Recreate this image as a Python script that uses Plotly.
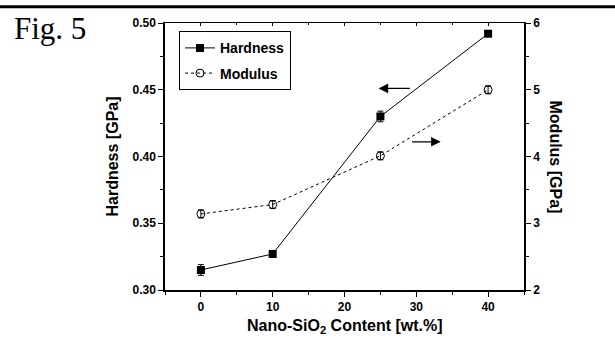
import plotly.graph_objects as go

# Data
content = [0, 10, 25, 40]
hardness = [0.315, 0.327, 0.430, 0.492]
hardness_err = [0.004, 0.002, 0.004, 0.002]
modulus = [3.14, 3.28, 4.01, 5.0]
modulus_err = [0.06, 0.06, 0.06, 0.06]

x_ticks = [0, 10, 20, 30, 40]
y1_ticks = [0.30, 0.35, 0.40, 0.45, 0.50]
y2_ticks = [2, 3, 4, 5, 6]

W, H = 615, 360
L, R, T, B = 165, 91, 22.7, 70
pw = W - L - R
ph = H - T - B

font_family = "Liberation Sans, Arial, sans-serif"
bold = dict(family=font_family, color="black", weight="bold")

fig = go.Figure()

fig.add_trace(go.Scatter(
    x=content, y=hardness, name="Hardness", mode="lines+markers",
    line=dict(color="black", width=1),
    marker=dict(symbol="square", size=8, color="black"),
    error_y=dict(type="data", array=hardness_err, color="black", thickness=1, width=3),
    legendgroup="a", yaxis="y",
))
fig.add_trace(go.Scatter(
    x=content, y=modulus, name="Modulus", mode="lines+markers",
    line=dict(color="black", width=1, dash="3px,3px"),
    marker=dict(symbol="circle-open", size=8, color="black", line=dict(width=1)),
    error_y=dict(type="data", array=modulus_err, color="black", thickness=1, width=3),
    legendgroup="b", yaxis="y2",
))

axis_common = dict(
    showline=True, linecolor="black", linewidth=1.5, showgrid=False, zeroline=False,
    ticks="outside", ticklen=5, tickwidth=1, tickcolor="black",
    tickfont=dict(size=12, **bold),
)

fig.update_layout(
    width=W, height=H,
    margin=dict(l=L, r=R, t=T, b=B),
    paper_bgcolor="white", plot_bgcolor="white",
    showlegend=True,
    legend=dict(
        x=(179 - L) / pw, y=1 - (31 - T) / ph, xanchor="left", yanchor="top",
        bordercolor="black", borderwidth=1, bgcolor="white",
        font=dict(size=14, **bold), tracegroupgap=4, traceorder="grouped",
        itemwidth=30,
    ),
    xaxis=dict(
        range=[-5, 45], tickvals=x_ticks,
        minor=dict(dtick=5, tick0=0, ticks="outside", ticklen=3, tickcolor="black"),
        **axis_common,
    ),
    xaxis2=dict(
        range=[-5, 45], overlaying="x", side="top", tickvals=x_ticks,
        showticklabels=False, showline=True, linecolor="black", linewidth=1,
        ticks="inside", ticklen=3, tickcolor="black", showgrid=False, zeroline=False,
        minor=dict(dtick=5, tick0=0, ticks="inside", ticklen=2, tickcolor="black"),
    ),
    yaxis=dict(
        range=[0.30, 0.50], tickvals=y1_ticks, tickformat=".2f",
        minor=dict(dtick=0.025, tick0=0.30, ticks="outside", ticklen=3, tickcolor="black"),
        **axis_common,
    ),
    yaxis2=dict(
        range=[2, 6], tickvals=y2_ticks, overlaying="y", side="right",
        minor=dict(dtick=0.5, tick0=2, ticks="outside", ticklen=3, tickcolor="black"),
        **axis_common,
    ),
)

# dummy trace to activate xaxis2
fig.add_trace(go.Scatter(x=[None], y=[None], xaxis="x2", showlegend=False))

title_font = dict(size=16, **bold)
annotations = [
    dict(text="Fig. 5", xref="paper", yref="paper",
         x=(12 - L) / pw, y=1 - (9 - T) / ph, xanchor="left", yanchor="top",
         showarrow=False, font=dict(family="Liberation Serif, Times New Roman, serif", size=31, color="black")),
    dict(text="Nano-SiO<sub>2</sub> Content [wt.%]", xref="paper", yref="paper",
         x=0.5, y=-(327 - T - ph) / ph, xanchor="center", yanchor="middle",
         showarrow=False, font=title_font),
    dict(text="Hardness [GPa]", xref="paper", yref="paper",
         x=(112 - L) / pw, y=0.5, xanchor="center", yanchor="middle",
         textangle=-90, showarrow=False, font=title_font),
    dict(text="Modulus [GPa]", xref="paper", yref="paper",
         x=(555 - L) / pw, y=0.5, xanchor="center", yanchor="middle",
         textangle=90, showarrow=False, font=title_font),
    dict(x=24.75, y=0.451, ax=29.3, ay=0.451, xref="x", yref="y", axref="x", ayref="y",
         text="", showarrow=True, arrowhead=2, arrowsize=1.6, arrowwidth=1.2, arrowcolor="black"),
    dict(x=33.4, y=4.22, ax=29.2, ay=4.22, xref="x", yref="y2", axref="x", ayref="y2",
         text="", showarrow=True, arrowhead=2, arrowsize=1.6, arrowwidth=1.2, arrowcolor="black"),
]
fig.update_layout(annotations=annotations)

# top rule across the page
fig.add_shape(type="line", xref="paper", yref="paper",
              x0=-L / pw, x1=(W - L) / pw, y0=1 + (T - 6.5) / ph, y1=1 + (T - 6.5) / ph,
              line=dict(color="black", width=3))

fig.write_html("out.html")
